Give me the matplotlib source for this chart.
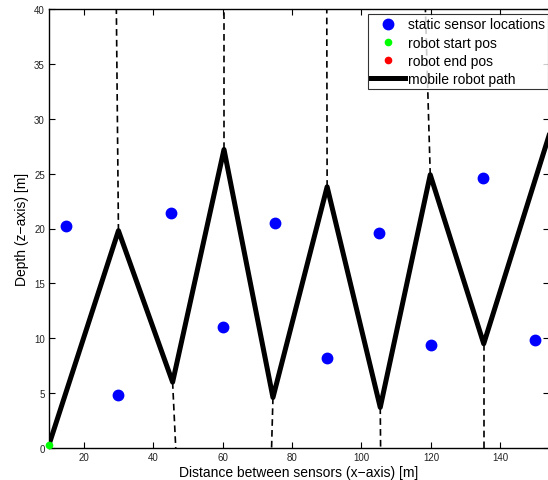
import numpy as np
import matplotlib
matplotlib.use('Agg')
import matplotlib.pyplot as plt

plt.rcParams['font.family'] = ['Liberation Sans', 'DejaVu Sans']

# static sensors
sensor_x = [15, 30, 45, 60, 75, 90, 105, 120, 135, 150]
sensor_z = [20.2, 4.8, 21.4, 11.0, 20.5, 8.2, 19.6, 9.4, 24.6, 9.8]

# robot path vertices
path_x = [10, 30, 45.6, 60.4, 74.5, 90.1, 105.4, 119.8, 135.2, 158]
path_z = [0.3, 19.8, 6.0, 27.2, 4.6, 23.8, 3.7, 24.9, 9.5, 32.5]

# dashed projection segments (x0, z0, x1, z1)
dash_segs = [
    (30.0, 19.8, 29.4, 40),
    (60.4, 27.2, 60.4, 40),
    (90.1, 23.8, 90.0, 40),
    (119.8, 24.9, 118.4, 40),
    (45.6, 6.0, 46.5, 0),
    (74.5, 4.6, 74.1, 0),
    (105.4, 3.7, 105.5, 0),
    (135.2, 9.5, 135.2, 0),
]

fig = plt.figure(figsize=(5.48, 4.81), dpi=100)
ax = fig.add_axes([49/548, 32/481, 500/548, 439/481])

for x0, z0, x1, z1 in dash_segs:
    ax.plot([x0, x1], [z0, z1], color='black', lw=1.2, ls=(0, (4, 2.5)))

ax.plot(sensor_x, sensor_z, 'o', color='#0000ff', ms=7.5, ls='none',
        label='static sensor locations')
ax.plot(path_x[0], path_z[0], 'o', color='#00ff00', ms=4.5, ls='none',
        label='robot start pos', clip_on=False, zorder=5)
ax.plot(path_x[-1], path_z[-1], 'o', color='#ff0000', ms=4.5, ls='none',
        label='robot end pos')
ax.plot(path_x, path_z, color='black', lw=3.6, label='mobile robot path')

ax.set_xlim(10, 154)
ax.set_ylim(0, 40)
ax.set_xticks([20, 40, 60, 80, 100, 120, 140])
ax.set_yticks(np.arange(0, 41, 5))
ax.tick_params(direction='in', length=4, labelsize=7, top=True, right=True,
               width=0.8, pad=3, labelcolor='#222222')
for s in ax.spines.values():
    s.set_linewidth(1.0)

ax.set_xlabel('Distance between sensors (x\u2212axis) [m]', fontsize=10, labelpad=2)
ax.set_ylabel('Depth (z\u2212axis) [m]', fontsize=10, labelpad=4)

leg = ax.legend(loc='upper right', bbox_to_anchor=(548/548, 1 - 15/481),
                bbox_transform=fig.transFigure, fontsize=10, frameon=True,
                fancybox=False, borderpad=0.25, labelspacing=0.3,
                handlelength=2.4, handletextpad=0.2, borderaxespad=0)
leg.get_frame().set_edgecolor('black')
leg.get_frame().set_linewidth(0.8)

fig.savefig('out.png', dpi=100)
